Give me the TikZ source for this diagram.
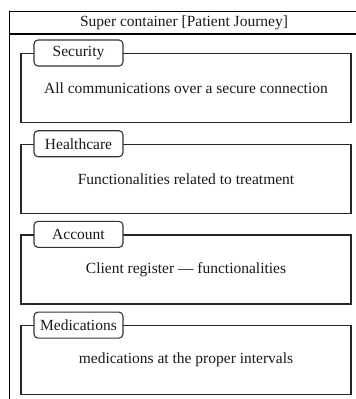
\documentclass[tikz,border=0pt]{standalone}
\usepackage{fontspec}
\setmainfont{Liberation Serif}
\begin{document}
\begin{tikzpicture}[x=1pt,y=-1pt,
  font=\fontsize{15.5}{18}\selectfont,
  container/.style={draw=black,line width=1.3pt},
  pkgframe/.style={draw=black!85,line width=1.2pt,minimum width=330pt,minimum height=69pt,inner sep=0pt,text=black!90},
  pkgtag/.style={draw=black!80,fill=white,line width=1.1pt,rounded corners=4pt,minimum width=89pt,minimum height=26pt,inner sep=0pt,text=black!90}]
  \useasboundingbox (0,0) rectangle (356,399);
  \clip (0,0) rectangle (356,399);
  % outer container with its title bar
  \node[container,minimum width=350pt,minimum height=430pt,inner sep=0pt,anchor=north west] (outer) at (9,11) {};
  \node[inner sep=0pt,text=black!90] (title) at (184,22.5) {Super container [Patient Journey]};
  \draw[container] (9,34) coordinate (hl) -- (359,34) coordinate (hr);
  % inner packages
  \foreach \name/\tag/\body [count=\i from 0] in {
      sec/Security/All communications over a secure connection,
      care/Healthcare/Functionalities related to treatment,
      acct/Account/Client register --- functionalities,
      meds/Medications/medications at the proper intervals} {
    \pgfmathsetmacro{\top}{53+90.7*\i}
    \node[pkgframe,anchor=north] (\name) at (186,\top) {\body};
    \node[pkgtag] (\name-tag) at (78.5,\top) {\tag};
  }
\end{tikzpicture}
\end{document}
